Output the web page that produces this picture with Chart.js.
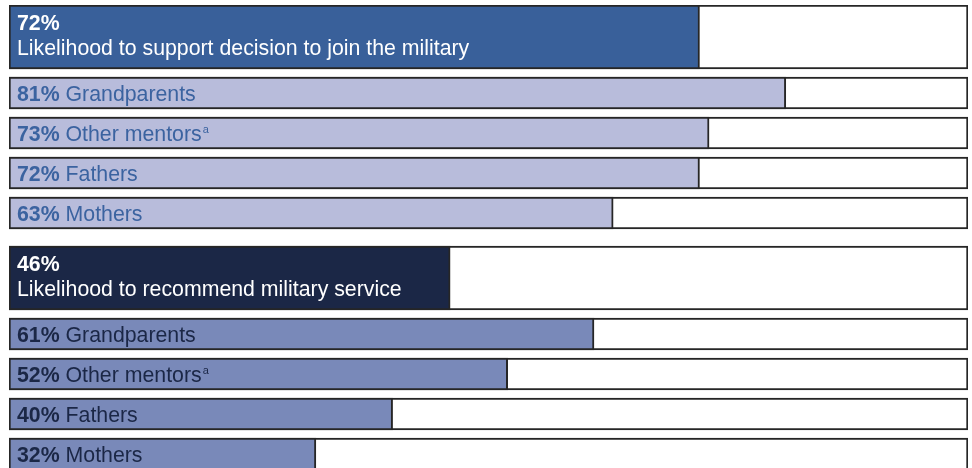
<!DOCTYPE html>
<html>
<head>
<meta charset="utf-8">
<script src="https://cdn.jsdelivr.net/npm/chart.js@4.4.1/dist/chart.umd.min.js"></script>
<style>
  html, body { margin: 0; padding: 0; background: #ffffff; overflow: hidden; }
  #wrap { width: 972px; height: 468px; position: relative; overflow: hidden; }
</style>
</head>
<body>
<div id="wrap"><canvas id="c" width="972" height="480"></canvas></div>
<script>
// ---- data ----
const groupTitles = ['Likelihood to support decision to join the military', 'Likelihood to recommend military service'];
const groupValues = [72, 46];
const subLabels = ['Grandparents', 'Other mentors', 'Fathers', 'Mothers'];
const subNotes = ['', 'a', '', ''];
const supportValues = [81, 73, 72, 63];
const recommendValues = [61, 52, 40, 32];
const subValueSets = [supportValues, recommendValues];

// ---- style / layout ----
const headFill = ['#39609a', '#1b2746'];
const subFill = ['#b8bcdb', '#7989b9'];
const subText = ['#3b63a0', '#1b2746'];
const borderCol = '#262626';
const HEAD_H = 64, SUB_H = 32, GAP = 8, GROUP_GAP = 17;
const FONT = '"Liberation Sans", Arial, sans-serif';
const FS = 21.3;

// build rows (positions in layout units along the linear index axis)
const headPts = [], subPts = [], headBg = [], subBg = [];
const headColors = [], subColors = [];
const rowInfo = { head: [], sub: [] };
let cursor = 0;
groupTitles.forEach((title, g) => {
  if (g > 0) cursor += GROUP_GAP - GAP;
  const hc = cursor + HEAD_H / 2;
  headPts.push({ x: groupValues[g], y: hc });
  headBg.push({ x: 100, y: hc });
  headColors.push(headFill[g]);
  rowInfo.head.push({ title: title, value: groupValues[g] });
  cursor += HEAD_H + GAP;
  subLabels.forEach((lab, i) => {
    const sc = cursor + SUB_H / 2;
    subPts.push({ x: subValueSets[g][i], y: sc });
    subBg.push({ x: 100, y: sc });
    subColors.push(subFill[g]);
    rowInfo.sub.push({ label: lab, note: subNotes[i], value: subValueSets[g][i], color: subText[g] });
    cursor += SUB_H + GAP;
  });
});

const labelPlugin = {
  id: 'rowLabels',
  afterDatasetsDraw(chart) {
    const ctx = chart.ctx;
    ctx.save();
    ctx.textBaseline = 'alphabetic';
    ctx.textAlign = 'left';
    const hm = chart.getDatasetMeta(2);
    hm.data.forEach((el, i) => {
      const info = rowInfo.head[i];
      const x = el.base + 8;
      ctx.fillStyle = '#ffffff';
      ctx.font = 'bold ' + FS + 'px ' + FONT;
      ctx.fillText(info.value + '%', x, el.y - 7);
      ctx.font = FS + 'px ' + FONT;
      ctx.fillText(info.title, x, el.y + 18);
    });
    const sm = chart.getDatasetMeta(3);
    sm.data.forEach((el, i) => {
      const info = rowInfo.sub[i];
      let x = el.base + 8;
      const y = el.y + 8;
      ctx.fillStyle = info.color;
      ctx.font = 'bold ' + FS + 'px ' + FONT;
      const pct = info.value + '%';
      ctx.fillText(pct, x, y);
      x += ctx.measureText(pct).width;
      ctx.font = FS + 'px ' + FONT;
      const lab = ' ' + info.label;
      ctx.fillText(lab, x, y);
      x += ctx.measureText(lab).width;
      if (info.note) {
        ctx.font = '11px ' + FONT;
        ctx.fillText(info.note, x + 1, y - 8);
      }
    });
    ctx.restore();
  }
};

const common = { borderColor: borderCol, borderWidth: 2, borderSkipped: false, grouped: false };
new Chart(document.getElementById('c'), {
  type: 'bar',
  data: {
    datasets: [
      Object.assign({ data: headBg, backgroundColor: '#ffffff', barThickness: HEAD_H, order: 3 }, common),
      Object.assign({ data: subBg, backgroundColor: '#ffffff', barThickness: SUB_H, order: 3 }, common),
      Object.assign({ data: headPts, backgroundColor: headColors, barThickness: HEAD_H, order: 1 }, common),
      Object.assign({ data: subPts, backgroundColor: subColors, barThickness: SUB_H, order: 1 }, common)
    ]
  },
  options: {
    indexAxis: 'y',
    responsive: false,
    animation: false,
    layout: { padding: { top: 5, left: 9, right: 4, bottom: 0 } },
    scales: {
      x: { type: 'linear', min: 0, max: 100, display: false, offset: false },
      y: { type: 'linear', min: 0, max: 475, reverse: true, display: false, offset: false }
    },
    plugins: { legend: { display: false }, tooltip: { enabled: false } }
  },
  plugins: [labelPlugin]
});
</script>
</body>
</html>
